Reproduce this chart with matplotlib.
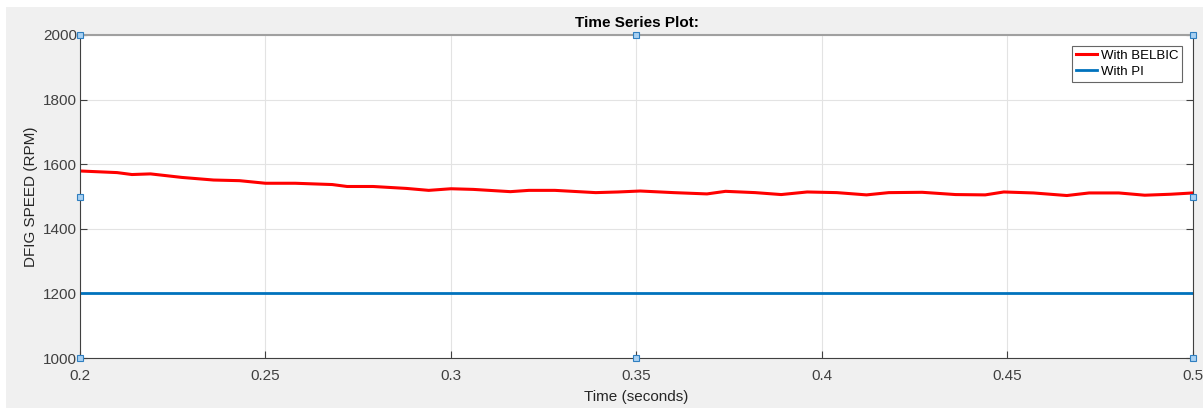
import numpy as np
import matplotlib
matplotlib.use("Agg")
import matplotlib.pyplot as plt

plt.rcParams["font.family"] = ["Liberation Sans", "DejaVu Sans"]

# red trace (With BELBIC)
t_belbic = [0.200, 0.210, 0.214, 0.219, 0.2275, 0.236, 0.243, 0.250, 0.258, 0.268,
            0.272, 0.279, 0.288, 0.294, 0.300, 0.306, 0.316, 0.321, 0.328, 0.339,
            0.345, 0.351, 0.360, 0.369, 0.374, 0.382, 0.389, 0.396, 0.404, 0.412,
            0.418, 0.427, 0.436, 0.444, 0.449, 0.457, 0.466, 0.472, 0.480, 0.487,
            0.494, 0.500]
belbic = [1579, 1574, 1568, 1570, 1559, 1551, 1549, 1541, 1541, 1537,
          1531, 1531, 1525, 1519, 1524, 1522, 1515, 1519, 1519, 1512,
          1514, 1517, 1512, 1508, 1516, 1512, 1506, 1514, 1512, 1505,
          1512, 1513, 1506, 1505, 1514, 1511, 1503, 1511, 1511, 1504,
          1507, 1511]

# blue trace (With PI)
t_pi = [0.2, 0.5]
pi = [1200, 1200]

xticks = [0.2, 0.25, 0.3, 0.35, 0.4, 0.45, 0.5]
xlabels = ["0.2", "0.25", "0.3", "0.35", "0.4", "0.45", "0.5"]
yticks = [1000, 1200, 1400, 1600, 1800, 2000]

# selection handles shown on the axes box
handle_x = [0.2, 0.35, 0.5, 0.2, 0.5, 0.2, 0.35, 0.5]
handle_y = [2000, 2000, 2000, 1500, 1500, 1000, 1000, 1000]

fig = plt.figure(figsize=(12.03, 4.08), dpi=100)
fig.patch.set_facecolor("white")
bg = plt.Rectangle((6 / 1203, 0), 1, 1 - 7 / 408, transform=fig.transFigure,
                   facecolor="#f0f0f0", edgecolor="none", zorder=-10)
fig.patches.append(bg)

ax = fig.add_axes([80 / 1203, 50 / 408, 1113 / 1203, 323 / 408])
ax.set_facecolor("white")

ax.plot(t_belbic, belbic, color="#ff0000", lw=2.2, label="With BELBIC")
ax.plot(t_pi, pi, color="#0072bd", lw=2, label="With PI")

ax.set_xlim(0.2, 0.5)
ax.set_ylim(1000, 2000)
ax.set_xticks(xticks)
ax.set_xticklabels(xlabels)
ax.set_yticks(yticks)
ax.grid(True, color="#e3e3e3", lw=0.8)
ax.tick_params(direction="in", length=5, color="#404040", labelsize=11,
               labelcolor="#404040", right=True)
ax.tick_params(axis="x", pad=8)
ax.tick_params(axis="y", pad=2)

for s in ["left", "right", "bottom"]:
    ax.spines[s].set_color("#404040")
ax.spines["top"].set_color("#a0a0a0")
ax.spines["top"].set_linewidth(1.5)

ax.set_xlabel("Time (seconds)", fontsize=11, color="#262626", labelpad=5)
ax.set_ylabel("DFIG SPEED (RPM)", fontsize=11, color="#262626", labelpad=4)
ax.set_title("Time Series Plot:", fontsize=11, fontweight="bold", pad=6)

ax.plot(handle_x, handle_y, ls="none", marker="s", ms=4.5, mfc="#a9d1f2",
        mec="#2f7fc0", mew=0.8, clip_on=False, zorder=5)

leg = ax.legend(loc="upper right", fontsize=9.5, frameon=True, fancybox=False,
                handlelength=1.6, borderpad=0.3, labelspacing=0.3,
                handletextpad=0.3, borderaxespad=0.8)
leg.get_frame().set_edgecolor("#404040")
leg.get_frame().set_linewidth(0.8)

fig.savefig("out.png", dpi=100)
